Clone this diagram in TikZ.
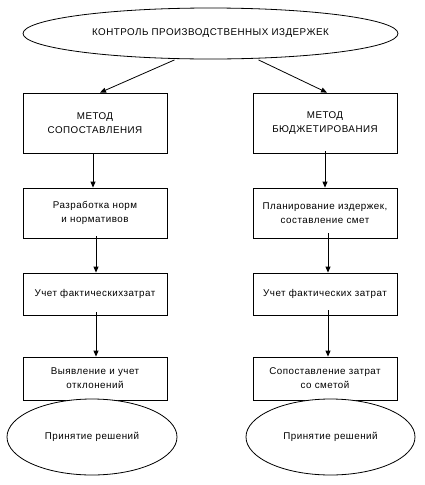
\documentclass[tikz,border=0pt]{standalone}
\usepackage{fontspec}
\setmainfont{Liberation Sans}[LetterSpace=5]
\usetikzlibrary{shapes.geometric,arrows.meta}
\begin{document}
\begin{tikzpicture}[x=1pt,y=-1pt,
  every node/.style={font=\fontsize{9.8}{14}\selectfont},
  lw/.style={line width=0.8pt},
  box/.style={draw,lw,rectangle,minimum width=144pt,align=center,inner sep=0pt,fill=white},
  oval/.style={draw,lw,ellipse,inner sep=0pt,fill=white},
  arr/.style={lw,-{Triangle[length=6pt,width=5pt]}}]
\useasboundingbox (0,0) rectangle (425,485);
\node[oval,minimum width=375pt,minimum height=51pt] (top) at (210.5,33.5) {КОНТРОЛЬ ПРОИЗВОДСТВЕННЫХ ИЗДЕРЖЕК};
% left column
\node[box,minimum height=60pt] (l1) at (95,123) {МЕТОД\\СОПОСТАВЛЕНИЯ};
\node[box,minimum height=50pt] (l2) at (95,213) {Разработка норм\\и нормативов};
\node[box,minimum height=42pt] (l3) at (95,294) {Учет фактическихзатрат};
\node[box,minimum height=43pt] (l4) at (95,378.5) {Выявление и учет\\отклонений};
\node[oval,minimum width=170pt,minimum height=76pt] (l5) at (92,437) {Принятие решений};
% right column
\node[box,minimum height=60pt] (r1) at (325,123) {МЕТОД\\БЮДЖЕТИРОВАНИЯ};
\node[box,minimum height=50pt] (r2) at (325,213) {Планирование издержек,\\составление смет};
\node[box,minimum height=42pt] (r3) at (325,294) {Учет фактических затрат};
\node[box,minimum height=43pt] (r4) at (325,378.5) {Сопоставление затрат\\со сметой};
\node[oval,minimum width=169pt,minimum height=76pt] (r5) at (330.5,437) {Принятие решений};
% arrows
\draw[arr] ([xshift=-36pt,yshift=-0.5pt]top.south) -- ([xshift=5pt]l1.north);
\draw[arr] ([xshift=48pt,yshift=-0.5pt]top.south) -- ([xshift=2pt]r1.north);
\draw[arr] ([xshift=-2pt]l1.south) -- ([xshift=-2pt]l2.north);
\draw[arr] ([xshift=1pt,yshift=2pt]l2.south) -- ([xshift=1pt]l3.north);
\draw[arr] ([xshift=1pt,yshift=3pt]l3.south) -- ([xshift=1pt]l4.north);
\draw[arr] ([yshift=2pt]r1.south) -- (r2.north);
\draw[arr] ([xshift=3pt,yshift=5pt]r2.south) -- ([xshift=3pt]r3.north);
\draw[arr] ([xshift=3pt,yshift=5pt]r3.south) -- ([xshift=3pt]r4.north);
\end{tikzpicture}
\end{document}
